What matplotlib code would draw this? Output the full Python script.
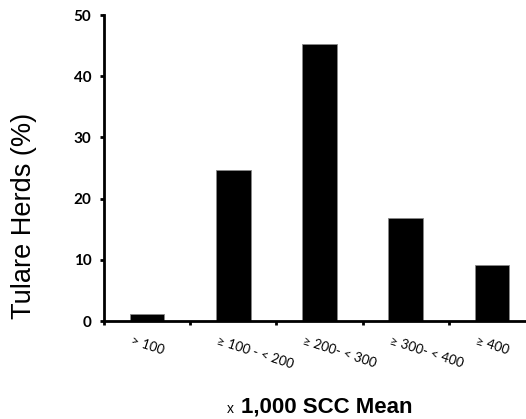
import matplotlib
matplotlib.use("Agg")
import matplotlib.pyplot as plt
from matplotlib.transforms import offset_copy

categories = ["> 100", "≥ 100 - < 200", "≥ 200- < 300", "≥ 300- < 400", "≥ 400"]
values = [1.1, 24.6, 45.2, 16.9, 9.2]
yticks = [0, 10, 20, 30, 40, 50]

fig = plt.figure(figsize=(5.26, 4.19), dpi=100)
ax = fig.add_axes([104/526, 98/419, 5*86.2/526, 306/419])

x = list(range(len(categories)))
ax.bar(x, values, width=0.4, color="black", edgecolor="#888888", linewidth=0.6)

ax.set_xlim(-0.5, len(categories) - 0.5)
ax.set_ylim(0, 50)
ax.set_xticks([i - 0.5 for i in range(len(categories))])
ax.set_xticklabels([])
ax.set_yticks(yticks)
ax.set_yticklabels([str(v) for v in yticks], fontfamily=["Lato", "DejaVu Sans"],
                   fontweight="bold", fontsize=11)

for s in ["top", "right"]:
    ax.spines[s].set_visible(False)
ax.spines["left"].set_linewidth(2)
ax.spines["bottom"].set_linewidth(2)
ax.tick_params(axis="both", direction="out", length=3, width=2, pad=6)
ax.tick_params(axis="x", length=3)

tr = offset_copy(ax.transData, fig=fig, x=-14, y=0, units="dots")
for i, lab in enumerate(categories):
    ax.text(i, -2.2, lab, transform=tr, rotation=-18, rotation_mode="anchor",
            ha="left", va="top", fontsize=9.5, fontfamily=["Lato", "DejaVu Sans"])

fig.text(24/526, 203/419, "Tulare Herds (%)", fontsize=19.5, rotation=90,
         fontfamily=["Liberation Sans", "DejaVu Sans"], ha="center", va="center")

fig.text(227/526, 3/419, "x", fontsize=10, fontfamily=["Liberation Sans"], ha="left", va="bottom")
fig.text(241/526, 2/419, "1,000 SCC Mean", fontsize=16, fontweight="bold",
         fontfamily=["Liberation Sans"], ha="left", va="bottom")

fig.savefig("out.png", dpi=100)
